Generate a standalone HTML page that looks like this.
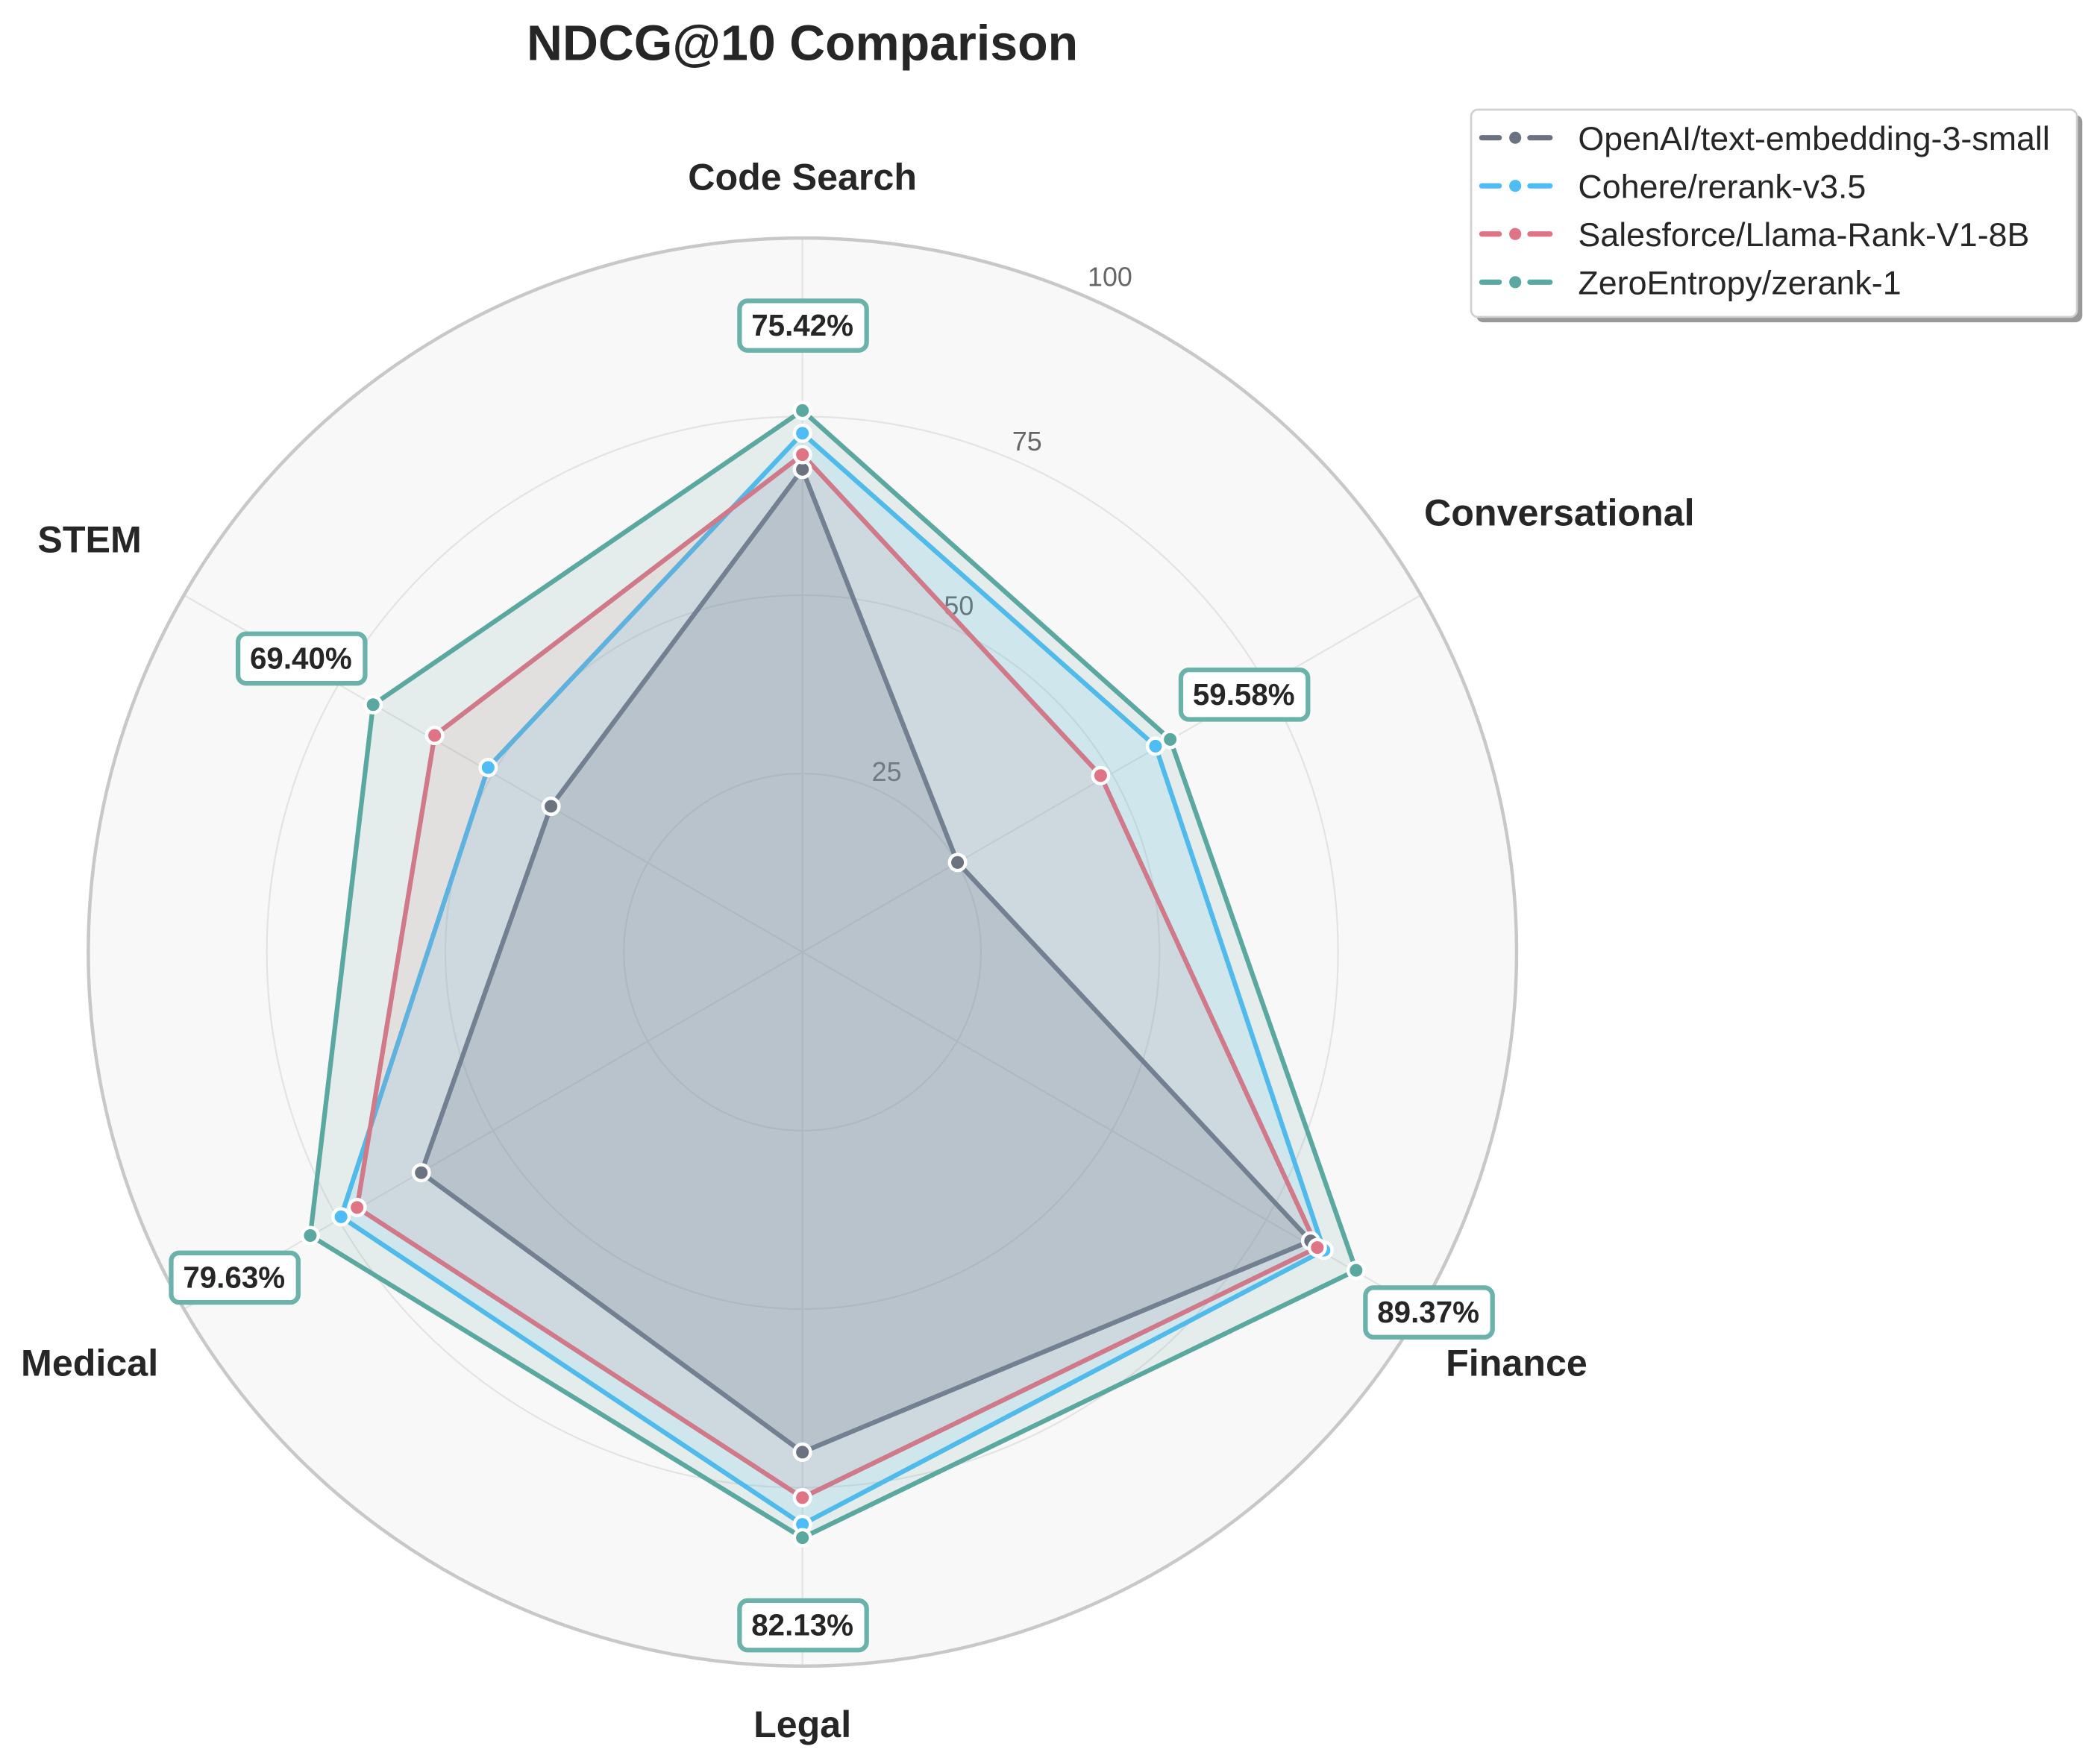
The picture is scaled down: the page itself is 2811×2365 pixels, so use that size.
<!DOCTYPE html>
<html><head><meta charset="utf-8"><style>
html,body{margin:0;padding:0;background:#fff}
svg{display:block}
text{font-family:"Liberation Sans",Arial,sans-serif}
</style></head><body>
<svg width="2811" height="2365" viewBox="0 0 1568 1319.2" xmlns="http://www.w3.org/2000/svg">
<rect width="1568" height="1320" fill="#fff"/>
<text x="600" y="45" font-size="37" font-weight="bold" text-anchor="middle" fill="#262626">NDCG@10 Comparison</text>
<circle cx="600" cy="712" r="534" fill="#f8f8f8"/>
<g fill="none" stroke="#e3e3e3" stroke-width="1.2">
<circle cx="600" cy="712" r="133.5"/><circle cx="600" cy="712" r="267"/><circle cx="600" cy="712" r="400.5"/>
<line x1="600" y1="712" x2="600" y2="178"/><line x1="600" y1="712" x2="1062.5" y2="445"/>
<line x1="600" y1="712" x2="1062.5" y2="979"/><line x1="600" y1="712" x2="600" y2="1246"/>
<line x1="600" y1="712" x2="137.5" y2="979"/><line x1="600" y1="712" x2="137.5" y2="445"/>
</g>
<circle cx="600" cy="712" r="534" fill="none" stroke="#c8c8c8" stroke-width="2.5"/>
<g font-size="20" fill="#666" text-anchor="middle">
<text x="663" y="584">25</text><text x="717" y="460">50</text><text x="768" y="337">75</text><text x="830" y="214">100</text>
</g>
<g stroke-width="3.5" stroke-linejoin="round">
<polygon points="600,351 716,645 980,928 600,1086 315,877 412,603" fill="#6b7280" fill-opacity="0.25" stroke="#6b7280"/>
<polygon points="600,324 864,558 990,935 600,1140 255,910 365,574" fill="#4fc3f7" fill-opacity="0.15" stroke="#4fbdf5"/>
<polygon points="600,340 823,580 985,933 600,1120 267,903 325,550" fill="#e57385" fill-opacity="0.12" stroke="#e07487"/>
<polygon points="600,307 875,553 1014,950 600,1150 232,924 279,527" fill="#5ba8a0" fill-opacity="0.12" stroke="#5ba8a0"/>
</g>
<g stroke="#fff" stroke-width="2.5">
<g fill="#6b7280"><circle cx="600" cy="351" r="6"/><circle cx="716" cy="645" r="6"/><circle cx="980" cy="928" r="6"/><circle cx="600" cy="1086" r="6"/><circle cx="315" cy="877" r="6"/><circle cx="412" cy="603" r="6"/></g>
<g fill="#4fbdf5"><circle cx="600" cy="324" r="6"/><circle cx="864" cy="558" r="6"/><circle cx="990" cy="935" r="6"/><circle cx="600" cy="1140" r="6"/><circle cx="255" cy="910" r="6"/><circle cx="365" cy="574" r="6"/></g>
<g fill="#e07487"><circle cx="600" cy="340" r="6"/><circle cx="823" cy="580" r="6"/><circle cx="985" cy="933" r="6"/><circle cx="600" cy="1120" r="6"/><circle cx="267" cy="903" r="6"/><circle cx="325" cy="550" r="6"/></g>
<g fill="#5ba8a0"><circle cx="600" cy="307" r="6"/><circle cx="875" cy="553" r="6"/><circle cx="1014" cy="950" r="6"/><circle cx="600" cy="1150" r="6"/><circle cx="232" cy="924" r="6"/><circle cx="279" cy="527" r="6"/></g>
</g>
<g font-size="28" font-weight="bold" fill="#262626" text-anchor="middle">
<text x="600" y="142">Code Search</text>
<text x="1166" y="393">Conversational</text>
<text x="1134" y="1029">Finance</text>
<text x="600" y="1299">Legal</text>
<text x="67" y="1029">Medical</text>
<text x="67" y="413">STEM</text>
</g>
<g fill="#fff" stroke="#6bb2aa" stroke-width="3.5">
<rect x="553" y="225" width="95" height="37" rx="6"/>
<rect x="883" y="501" width="95" height="37" rx="6"/>
<rect x="1021" y="963" width="95" height="37" rx="6"/>
<rect x="553" y="1197" width="95" height="37" rx="6"/>
<rect x="128" y="937" width="95" height="37" rx="6"/>
<rect x="178" y="474" width="95" height="37" rx="6"/>
</g>
<g font-size="22.5" font-weight="bold" fill="#262626" text-anchor="middle">
<text x="600" y="251">75.42%</text>
<text x="930" y="527">59.58%</text>
<text x="1068" y="989">89.37%</text>
<text x="600" y="1223">82.13%</text>
<text x="175" y="963">79.63%</text>
<text x="225" y="500">69.40%</text>
</g>
<rect x="1104" y="86" width="453" height="155" rx="5" fill="#999"/>
<rect x="1100" y="82" width="453" height="155" rx="5" fill="#fff" stroke="#d0d0d0" stroke-width="1.5"/>
<g stroke-width="4" stroke-linecap="round">
<g stroke="#6b7280"><line x1="1108" y1="103" x2="1121" y2="103"/><line x1="1144" y1="103" x2="1159" y2="103"/></g>
<g stroke="#4fbdf5"><line x1="1108" y1="139" x2="1121" y2="139"/><line x1="1144" y1="139" x2="1159" y2="139"/></g>
<g stroke="#e07487"><line x1="1108" y1="175" x2="1121" y2="175"/><line x1="1144" y1="175" x2="1159" y2="175"/></g>
<g stroke="#5ba8a0"><line x1="1108" y1="211" x2="1121" y2="211"/><line x1="1144" y1="211" x2="1159" y2="211"/></g>
</g>
<circle cx="1133" cy="103" r="4.5" fill="#6b7280"/><circle cx="1133" cy="139" r="4.5" fill="#4fbdf5"/>
<circle cx="1133" cy="175" r="4.5" fill="#e07487"/><circle cx="1133" cy="211" r="4.5" fill="#5ba8a0"/>
<g font-size="25" fill="#262626">
<text x="1180" y="112">OpenAI/text-embedding-3-small</text>
<text x="1180" y="148">Cohere/rerank-v3.5</text>
<text x="1180" y="184">Salesforce/Llama-Rank-V1-8B</text>
<text x="1180" y="220">ZeroEntropy/zerank-1</text>
</g>
</svg>
</body></html>
